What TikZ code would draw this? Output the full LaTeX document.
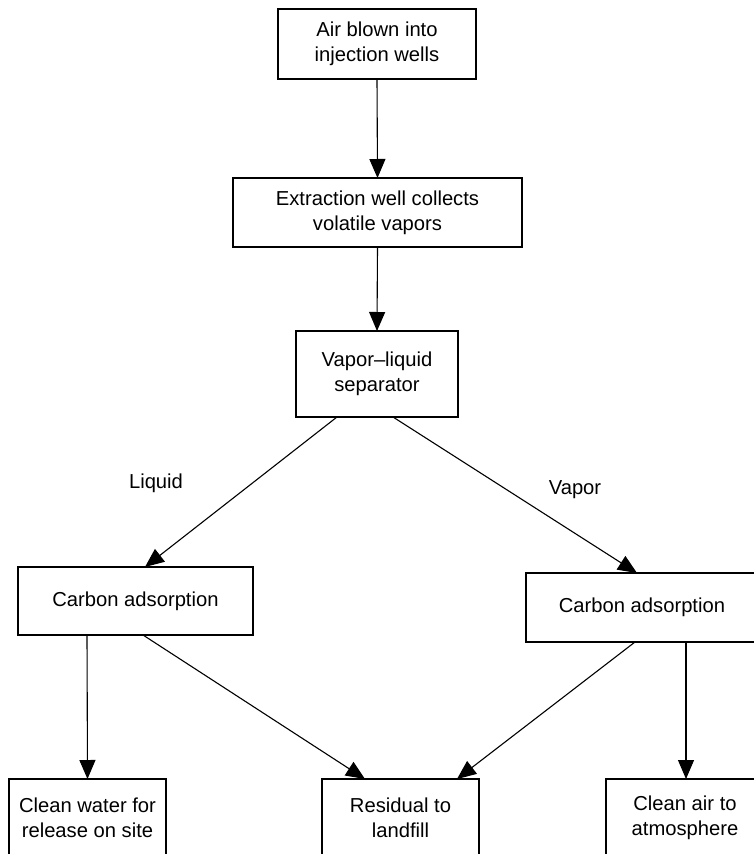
\documentclass[tikz,border=0pt]{standalone}
\usepackage{fontspec}
\setmainfont{Liberation Sans}
\usetikzlibrary{arrows.meta}
\begin{document}
\begin{tikzpicture}[x=1pt,y=-1pt,
  box/.style={draw, line width=1.1pt, inner sep=0pt, outer sep=0pt,
    align=center, font=\fontsize{20.2}{25}\selectfont},
  lbl/.style={inner sep=0pt, font=\fontsize{20.2}{25}\selectfont},
  flow/.style={line width=1.1pt, -{Triangle[length=19pt,width=16pt]}}]
\clip (0,0) rectangle (754,854);

% process boxes
\node[box, minimum width=198pt, minimum height=70pt] (air) at (377,44)
  {Air blown into\\injection wells};
\node[box, minimum width=289pt, minimum height=69pt] (ext) at (377.5,212.5)
  {Extraction well collects\\volatile vapors};
\node[box, minimum width=162pt, minimum height=86pt] (sep) at (377,374)
  {Vapor--liquid\\separator};
\node[box, minimum width=235pt, minimum height=68pt] (cl) at (135.5,601)
  {Carbon adsorption};
\node[box, minimum width=232pt, minimum height=69pt] (cr) at (642,607.5)
  {Carbon adsorption};
\node[box, minimum width=157pt, minimum height=78pt] (water) at (87.5,818)
  {Clean water for\\release on site};
\node[box, minimum width=157pt, minimum height=78pt] (land) at (400.5,818)
  {Residual to\\landfill};
\node[box, minimum width=158pt, minimum height=78pt] (atm) at (685,818)
  {Clean air to\\atmosphere};

% branch labels
\node[lbl] (liq) at (156,483) {Liquid};
\node[lbl] (vap) at (575,490) {Vapor};

% connectors
\draw[flow] (air.south) -- (ext.north);
\draw[flow] (ext.south) -- (sep.north);
\draw[flow] ([xshift=-40pt]sep.south) -- ([xshift=9.5pt]cl.north);
\draw[flow] ([xshift=16pt]sep.south) -- ([xshift=-5pt]cr.north);
\draw[flow] ([xshift=-48.5pt]cl.south) -- (water.north);
\draw[flow] ([xshift=7.5pt]cl.south) -- ([xshift=-35.5pt]land.north);
\draw[flow] ([xshift=-7pt]cr.south) -- ([xshift=56.5pt]land.north);
\draw[flow] ([xshift=44pt]cr.south) -- ([xshift=1pt]atm.north);
\end{tikzpicture}
\end{document}
